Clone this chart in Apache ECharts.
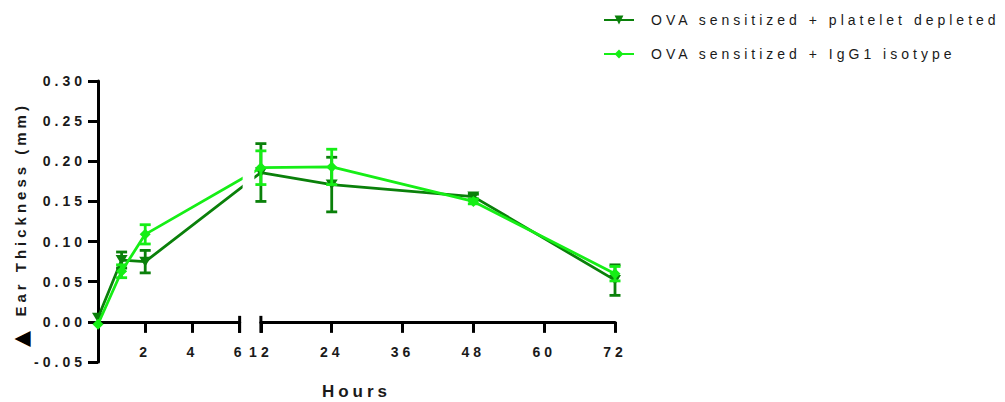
<!DOCTYPE html>
<html><head><meta charset="utf-8">
<script src="https://cdn.jsdelivr.net/npm/echarts@6/dist/echarts.min.js"></script>
<style>
html,body{margin:0;padding:0;background:#fff;}
#main{width:1005px;height:402px;}
#main text{letter-spacing:4px;}
</style></head><body><div id="main"></div>
<script>
// ---- data ----
const hours = [0, 1, 2, 12, 24, 48, 72];
const depletedMean = [0.005, 0.077, 0.075, 0.186, 0.171, 0.156, 0.052];
const depletedErr  = [0, 0.010, 0.014, 0.036, 0.034, 0.003, 0.019];
const isotypeMean  = [-0.003, 0.063, 0.109, 0.192, 0.193, 0.150, 0.060];
const isotypeErr   = [0, 0.008, 0.012, 0.021, 0.022, 0.003, 0.009];
const seriesNames  = ['OVA sensitized + platelet depleted', 'OVA sensitized + IgG1 isotype'];
const yTitleMark = '\u25B2';
const yTitleText = ' Ear Thickness (mm)';
const xTitle = 'Hours';
const yRange = {min: -0.05, max: 0.30, interval: 0.05};
const seg1 = {min: 0, max: 6, interval: 2};
const seg2 = {min: 12, max: 72, interval: 12};

// ---- broken x axis mapping (hours -> display units) ----
const seg1Scale = 4, gapUnits = 3.6;
function toDisplay(h) {
  return h <= seg1.max ? h * seg1Scale : seg1.max * seg1Scale + gapUnits + (h - seg2.min);
}
const dispMax = toDisplay(seg2.max);

// ---- layout ----
const FONT = '"Liberation Sans", Arial, sans-serif';
const LETTER_SPACING = 4;
const G = {left: 98, top: 81, width: 517, height: 281};
const pxPerUnit = G.width / dispMax;
const zeroY = G.top + G.height * (yRange.max - 0) / (yRange.max - yRange.min);
const g1 = {left: G.left, top: G.top, width: toDisplay(seg1.max) * pxPerUnit, height: zeroY - G.top};
const g2 = {left: G.left + toDisplay(seg2.min) * pxPerUnit, top: G.top,
            width: (toDisplay(seg2.max) - toDisplay(seg2.min)) * pxPerUnit, height: zeroY - G.top};
const colors = ['#0A800A', '#16EE16'];
const LW = 2.8;

function errData(mean, err) {
  return hours.map((h, i) => [toDisplay(h), mean[i] - err[i], mean[i] + err[i], err[i]]);
}
function lineData(mean) {
  return hours.map((h, i) => [toDisplay(h), mean[i]]);
}
function errSeries(mean, err, color, z) {
  return {
    type: 'custom', name: 'err' + z, xAxisIndex: 0, yAxisIndex: 0, z: z,
    data: errData(mean, err),
    renderItem(params, api) {
      if (api.value(3) <= 0) return {type: 'group', children: []};
      const x = api.value(0);
      const lo = api.coord([x, api.value(1)]);
      const hi = api.coord([x, api.value(2)]);
      const hw = 5.5;
      const style = {stroke: color, lineWidth: LW, fill: null};
      return {type: 'group', children: [
        {type: 'line', shape: {x1: lo[0], y1: lo[1], x2: hi[0], y2: hi[1]}, style},
        {type: 'line', shape: {x1: lo[0] - hw, y1: lo[1], x2: lo[0] + hw, y2: lo[1]}, style},
        {type: 'line', shape: {x1: hi[0] - hw, y1: hi[1], x2: hi[0] + hw, y2: hi[1]}, style}
      ]};
    }
  };
}

const hiddenY = (gi) => ({gridIndex: gi, type: 'value', min: 0, max: yRange.max, show: false});
const segX = (gi, seg, hideMin) => ({
  gridIndex: gi, type: 'value', min: seg.min, max: seg.max, interval: seg.interval,
  axisLine: {show: true, onZero: false, lineStyle: {color: '#000', width: 3}},
  axisTick: {show: true, inside: false, length: 11, lineStyle: {color: '#000', width: 3}},
  axisLabel: {margin: 23, fontSize: 14, fontWeight: 'bold', color: '#1a1a1a', fontFamily: FONT,
    formatter: v => (hideMin && v === seg.min) ? '' : String(v)},
  splitLine: {show: false}
});
const gridOf = (g) => Object.assign({containLabel: false, outerBoundsMode: 'none'}, g);

const chart = echarts.init(document.getElementById('main'), null, {renderer: 'svg'});
const option = {
  animation: false,
  backgroundColor: '#fff',
  grid: [gridOf(G), gridOf(g1), gridOf(g2)],
  legend: {
    data: seriesNames, orient: 'vertical', left: 603, top: 13, padding: 0,
    itemWidth: 30, itemHeight: 11, itemGap: 20,
    textStyle: {fontSize: 14, color: '#1a1a1a', fontFamily: FONT, padding: [0, 0, 0, 12]}
  },
  xAxis: [
    {gridIndex: 0, type: 'value', min: 0, max: dispMax, show: true,
     axisLine: {show: false, onZero: false}, axisTick: {show: false}, axisLabel: {show: false},
     splitLine: {show: false},
     name: xTitle, nameLocation: 'middle', nameGap: 21,
     nameTextStyle: {fontSize: 17, fontWeight: 'bold', color: '#1a1a1a', fontFamily: FONT}},
    segX(1, seg1, true),
    segX(2, seg2, false)
  ],
  yAxis: [
    {gridIndex: 0, type: 'value', min: yRange.min, max: yRange.max, interval: yRange.interval,
     axisLine: {show: true, onZero: false, lineStyle: {color: '#000', width: 3}},
     axisTick: {show: true, inside: false, length: 10, lineStyle: {color: '#000', width: 3}},
     axisLabel: {margin: 12, fontSize: 14, fontWeight: 'bold', color: '#1a1a1a', fontFamily: FONT,
       formatter: v => v.toFixed(2)},
     splitLine: {show: false},
     name: '{tri|' + yTitleMark + '}{t|' + yTitleText + '}',
     nameLocation: 'middle', nameGap: 67, nameRotate: 90,
     nameTextStyle: {fontSize: 15, fontWeight: 'bold', color: '#1a1a1a', fontFamily: FONT,
       padding: [0, (yTitleText.length - 1) * LETTER_SPACING + 10, 0, 0],
       rich: {
         tri: {align: 'left', fontSize: 21, fontFamily: '"DejaVu Sans", sans-serif', color: '#000',
               padding: [0, 6, 0, 0]},
         t: {align: 'left', fontSize: 15, fontWeight: 'bold', color: '#1a1a1a', fontFamily: FONT}
       }}},
    hiddenY(1), hiddenY(2)
  ],
  series: [
    errSeries(depletedMean, depletedErr, colors[0], 2),
    {type: 'line', name: seriesNames[0], xAxisIndex: 0, yAxisIndex: 0, z: 3,
     data: lineData(depletedMean), color: colors[0],
     symbol: 'triangle', symbolRotate: 180, symbolSize: [12, 10], showAllSymbol: true,
     lineStyle: {width: LW, color: colors[0]}, itemStyle: {color: colors[0]}},
    errSeries(isotypeMean, isotypeErr, colors[1], 4),
    {type: 'line', name: seriesNames[1], xAxisIndex: 0, yAxisIndex: 0, z: 5,
     data: lineData(isotypeMean), color: colors[1],
     symbol: 'diamond', symbolSize: 11, showAllSymbol: true,
     lineStyle: {width: LW, color: colors[1]}, itemStyle: {color: colors[1]}}
  ]
};
chart.setOption(option);

// axis break decorations: mask the line in the gap and draw the break bars
const y0 = chart.convertToPixel({yAxisIndex: 0}, 0);
const xEnd1 = g1.left + g1.width;
const xStart2 = g2.left;
chart.setOption({
  graphic: [
    {type: 'rect', z: 50, silent: true,
     shape: {x: xEnd1 + 3, y: G.top, width: xStart2 - xEnd1 - 9.5, height: y0 - 8 - G.top},
     style: {fill: '#fff'}},
    {type: 'line', z: 60, silent: true,
     shape: {x1: xEnd1, y1: y0 - 6, x2: xEnd1, y2: y0 + 11}, style: {stroke: '#000', lineWidth: 3}},
    {type: 'line', z: 60, silent: true,
     shape: {x1: xStart2, y1: y0 - 6, x2: xStart2, y2: y0 + 11}, style: {stroke: '#000', lineWidth: 3}}
  ]
});
</script></body></html>
